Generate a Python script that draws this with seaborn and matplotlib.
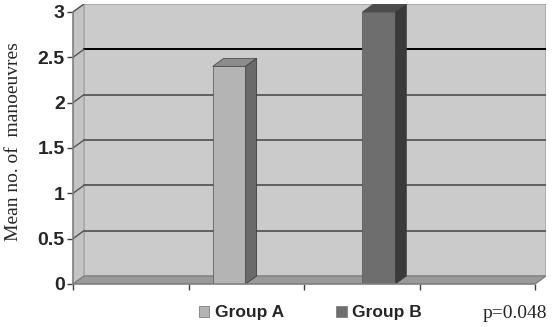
import numpy as np
import pandas as pd
import matplotlib
matplotlib.use("Agg")
import matplotlib.pyplot as plt
from matplotlib.patches import Polygon, Patch
import seaborn as sns

# data
groups = ["Group A", "Group B"]
means = [2.4, 3.0]
yticks = [0, 0.5, 1, 1.5, 2, 2.5, 3]
ytick_labels = ["0", "0.5", "1", "1.5", "2", "2.5", "3"]
p_text = "p=0.048"
ylabel = "Mean no. of  manoeuvres"

front_cols = ["#b4b4b4", "#6e6e6e"]
side_cols = ["#6a6a6a", "#3a3a3a"]
top_cols = ["#8c8c8c", "#4c4c4c"]

sns.set_style("white")
plt.rcParams['font.family'] = ['Liberation Sans', 'DejaVu Sans']

df = pd.DataFrame({"group": groups, "mean": means})

fig = plt.figure(figsize=(5.53, 3.27), dpi=100)
W, H = 553, 327
ax = fig.add_axes([73 / W, (H - 284) / H, (546 - 73) / W, 280 / H])

# 3d geometry (data units)
xa, xb = -1.043, 2.043
DX, DY = 0.0733, 0.088
ymax = 3.0

# walls
back = Polygon([(xa + DX, DY), (xb + DX, DY), (xb + DX, ymax + DY), (xa + DX, ymax + DY)],
               closed=True, facecolor="#cbcbcb", edgecolor="#a8a8a8", lw=1.2, zorder=0.1)
side = Polygon([(xa, 0), (xa + DX, DY), (xa + DX, ymax + DY), (xa, ymax)],
               closed=True, facecolor="#c4c4c4", edgecolor="#a8a8a8", lw=1.0, zorder=0.1)
floor = Polygon([(xa, 0), (xa + DX, DY), (xb + DX, DY), (xb, 0)],
                closed=True, facecolor="#9a9a9a", edgecolor="#808080", lw=1.0, zorder=0.2)

# bars (front faces)
sns.barplot(data=df, x="group", y="mean", hue="group", palette=front_cols,
            width=0.22, legend=False, ax=ax, edgecolor="#606060", linewidth=0.6,
            saturation=1, zorder=1.5)
bars = list(ax.patches)

ax.add_patch(back)
ax.add_patch(side)
ax.add_patch(floor)
ax.set_xlim(xa, xb + DX)
ax.set_ylim(0, ymax + DY)
ax.set_facecolor("none")

# gridlines on back wall + diagonals on side wall
for y in yticks[1:-1]:
    c = "#000000" if y == 2.5 else "#606060"
    ax.plot([xa + DX, xb + DX], [y + DY, y + DY], color=c, lw=1.4, zorder=0.5)
    ax.plot([xa, xa + DX], [y, y + DY], color="#555555", lw=1.0, zorder=0.5)
ax.plot([xa, xa + DX], [ymax, ymax + DY], color="#555555", lw=1.0, zorder=0.5)

for i, p in enumerate(bars):
    x0 = p.get_x()
    w = p.get_width()
    h = p.get_height()
    top = Polygon([(x0, h), (x0 + DX, h + DY), (x0 + w + DX, h + DY), (x0 + w, h)],
                  closed=True, facecolor=top_cols[i], edgecolor="#505050", lw=0.6, zorder=1.6)
    sd = Polygon([(x0 + w, 0), (x0 + w + DX, DY), (x0 + w + DX, h + DY), (x0 + w, h)],
                 closed=True, facecolor=side_cols[i], edgecolor="#404040", lw=0.6, zorder=1.6)
    ax.add_patch(top)
    ax.add_patch(sd)

# axes styling
for s in ["top", "right"]:
    ax.spines[s].set_visible(False)
ax.spines["left"].set_bounds(0, ymax)
ax.spines["bottom"].set_bounds(xa, xb)
ax.spines["left"].set_color("#808080")
ax.spines["bottom"].set_color("#808080")
ax.spines["left"].set_linewidth(1.2)
ax.spines["bottom"].set_linewidth(1.2)

ax.set_yticks(yticks)
ax.set_yticklabels(ytick_labels, fontsize=14, fontweight="bold")
ax.set_xticks(np.linspace(xa, xb, 5))
ax.set_xticklabels([""] * 5)
ax.tick_params(axis="y", length=4.5, width=1, color="#404040", pad=1.5, left=True)
ax.tick_params(axis="x", length=4.5, width=1, color="#404040", bottom=True)
ax.set_xlabel("")
ax.set_ylabel("")

fig.text(14 / W, (H - 142) / H, ylabel, family=["Liberation Serif", "DejaVu Serif"],
         fontsize=14, rotation=90, ha="center", va="center")

# legend
handles = [Patch(facecolor=front_cols[i], edgecolor="#808080", lw=0.6, label=groups[i])
           for i in range(2)]
fig.legend(handles=handles, loc="center left", bbox_to_anchor=(183 / W, (H - 313) / H),
           ncol=2, frameon=False, handlelength=0.62, handleheight=0.62,
           handletextpad=0.3, columnspacing=3.0,
           prop={"family": "Liberation Sans", "weight": "bold", "size": 12.5})

fig.text(483 / W, (H - 313) / H, p_text, family=["Liberation Serif", "DejaVu Serif"],
         fontsize=14, va="center", ha="left")

fig.savefig("out.png", dpi=100)
